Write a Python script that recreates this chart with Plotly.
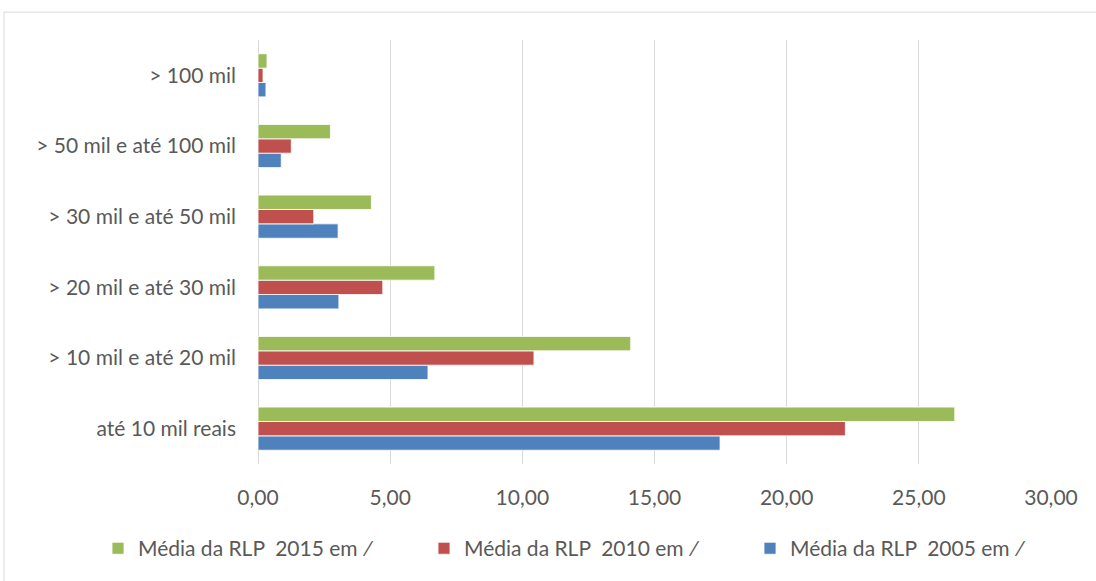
import plotly.graph_objects as go

categories = ["até 10 mil reais", "> 10 mil e até 20 mil", "> 20 mil e até 30 mil",
              "> 30 mil e até 50 mil", "> 50 mil e até 100 mil", "> 100 mil"]
v2005 = [17.48, 6.43, 3.06, 3.03, 0.88, 0.30]
v2010 = [22.22, 10.44, 4.72, 2.11, 1.26, 0.19]
v2015 = [26.36, 14.10, 6.69, 4.29, 2.74, 0.34]
names = ["Média da RLP\u00a0\u00a02005 em \u2215", "Média da RLP\u00a0\u00a02010 em \u2215", "Média da RLP\u00a0\u00a02015 em \u2215"]
colors = ["#4F81BD", "#C0504D", "#9BBB59"]
xticks = [0, 5, 10, 15, 20, 25, 30]

fig = go.Figure()
for vals, nm, c in zip([v2005, v2010, v2015], names, colors):
    fig.add_trace(go.Bar(y=categories, x=vals, name=nm, orientation="h",
                         marker=dict(color=c, line=dict(color="white", width=0.8))))

W, H = 1096, 581
L, T = 258, 40
R = W - 1051
B = H - 466
pw, ph = W - L - R, H - T - B
def px(x): return (x - L) / pw
def py(y): return (H - B - y) / ph

fig.update_layout(
    width=W, height=H, barmode="group", bargap=0.39, bargroupgap=0,
    margin=dict(l=L, r=R, t=T, b=B),
    paper_bgcolor="white", plot_bgcolor="white",
    separators=",.",
    font=dict(family="Lato, Open Sans, sans-serif", size=21, color="#595959"),
    xaxis=dict(range=[0, 30], tickvals=xticks, tickformat=".2f", showgrid=True,
               gridcolor="#D9D9D9", gridwidth=1, zeroline=True, zerolinecolor="#D9D9D9",
               zerolinewidth=1, showline=False, ticks="", fixedrange=True,
               ticklabelstandoff=19),
    yaxis=dict(showgrid=False, ticks="", showline=False, ticklabelstandoff=21,
               categoryorder="array", categoryarray=categories, fixedrange=True),
    legend=dict(orientation="h", traceorder="reversed",
                x=px(98), xanchor="left",
                y=py(551), yanchor="middle", font=dict(size=21, color="#595959"),
                itemwidth=30, entrywidthmode="pixels", entrywidth=281),
    showlegend=True,
)
fig.add_shape(type="rect", xref="paper", yref="paper",
              x0=px(4), x1=px(1110), y0=py(600), y1=py(12),
              line=dict(color="#D9D9D9", width=1), fillcolor="rgba(0,0,0,0)", layer="below")
fig.write_html("out.html", config={"displayModeBar": False},
               post_script="document.body.style.margin='0';")
